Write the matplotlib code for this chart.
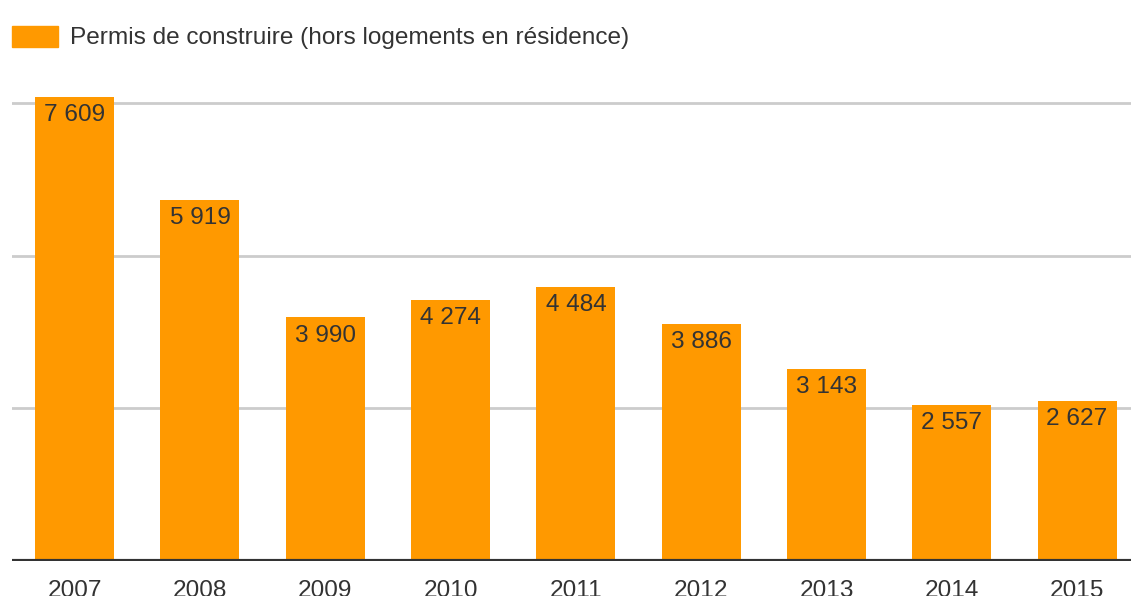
import matplotlib
matplotlib.use("Agg")
import matplotlib.pyplot as plt

years = ["2007", "2008", "2009", "2010", "2011", "2012", "2013", "2014", "2015"]
permis = [7609, 5919, 3990, 4274, 4484, 3886, 3143, 2557, 2627]
value_labels = ["7 609", "5 919", "3 990", "4 274", "4 484", "3 886", "3 143", "2 557", "2 627"]
grid_values = [2500, 5000, 7500]
legend_label = "Permis de construire (hors logements en résidence)"

ORANGE = "#FF9900"
TEXT = "#333333"

plt.rcParams["font.family"] = ["Liberation Sans", "DejaVu Sans"]

W, H = 1131, 596
fig = plt.figure(figsize=(W / 100, H / 100), dpi=100)
ax = fig.add_axes([12 / W, 1 - 561 / H, 1 - 12 / W, (561 - 80) / H])

x = range(len(years))
bars = ax.bar(x, permis, width=0.63, color=ORANGE, zorder=2)

for v in grid_values:
    ax.axhline(v, color="#CCCCCC", lw=2.0, zorder=1)
ax.axhline(0, color=TEXT, lw=3.0, zorder=3)

for b, lab in zip(bars, value_labels):
    ax.annotate(lab, (b.get_x() + b.get_width() / 2, b.get_height()),
                xytext=(0, -13), textcoords="offset points",
                ha="center", va="center", fontsize=17.6, color=TEXT, zorder=4)

ax.set_xlim(-0.5, 8.43)
ax.set_ylim(0, 7881)
ax.set_xticks(list(x))
ax.set_xticklabels(years, fontsize=17.6, color=TEXT)
ax.tick_params(axis="x", length=0, pad=13.5)
ax.set_yticks([])
for s in ax.spines.values():
    s.set_visible(False)

# legend drawn by hand at the top-left
fig.patches.append(plt.Rectangle((12 / W, 1 - 47 / H), 46 / W, 21 / H,
                                 transform=fig.transFigure, color=ORANGE))
fig.text(70 / W, 1 - 38 / H, legend_label, fontsize=17.6, color=TEXT,
         ha="left", va="center")

fig.savefig("out.png", dpi=100)
